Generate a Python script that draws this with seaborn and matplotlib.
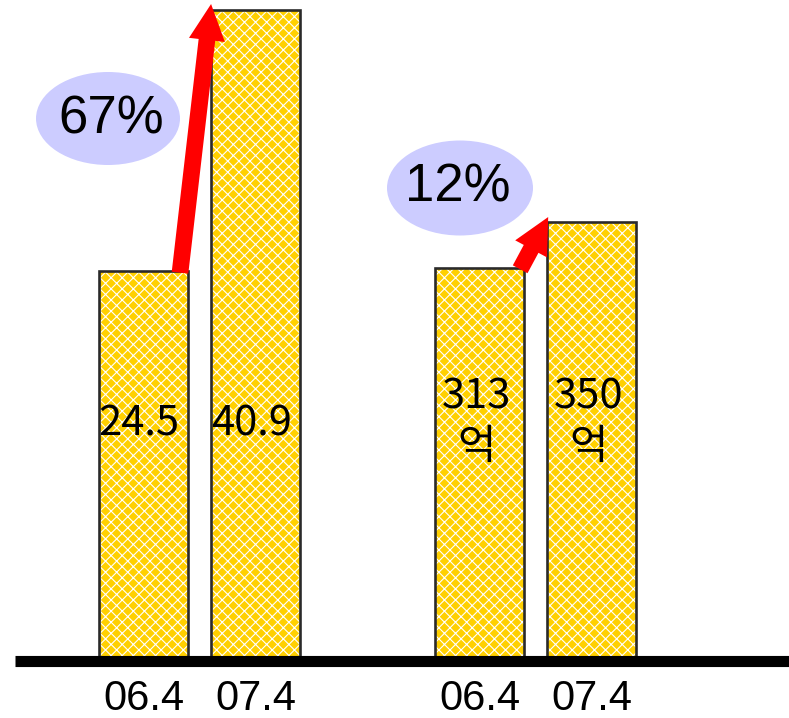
import matplotlib
matplotlib.use("Agg")
import matplotlib.pyplot as plt
from matplotlib.patches import Ellipse
import seaborn as sns
import pandas as pd

# ---- data ----
periods = ["06.4", "07.4"]
group_a_values = [24.5, 40.9]
group_b_values = [313, 350]
group_a_labels = ["24.5", "40.9"]
group_b_labels = ["313\n억", "350\n억"]
growth_labels = ["67%", "12%"]

sns.set_theme(style="white")
plt.rcParams["font.family"] = ["Liberation Sans", "Noto Sans CJK KR", "DejaVu Sans"]
plt.rcParams["hatch.linewidth"] = 0.8

order = ["A " + p for p in periods] + ["gap"] + ["B " + p for p in periods]
df_a = pd.DataFrame({"key": ["A " + p for p in periods], "value": group_a_values})
df_b = pd.DataFrame({"key": ["B " + p for p in periods], "value": group_b_values})

W, H = 789, 718
fig = plt.figure(figsize=(W / 100, H / 100), dpi=100)
ax = fig.add_axes([15 / W, 57 / H, 774 / W, 653 / H])
ax2 = ax.twinx()

YELLOW = "#FFD000"
EDGE = "#2a2a2a"
BAR_W = 0.794


def draw(axis, df):
    sns.barplot(data=df, x="key", y="value", order=order, color=YELLOW,
                saturation=1, width=BAR_W, errorbar=None, ax=axis)
    for p in axis.patches:
        p.set_edgecolor("white")
        p.set_hatch("xxx")
        p.set_linewidth(0)
    sns.barplot(data=df, x="key", y="value", order=order, color=EDGE,
                fill=False, width=BAR_W, errorbar=None, linewidth=1.9, ax=axis)


draw(ax, df_a)
draw(ax2, df_b)

for a in (ax, ax2):
    a.set_xlim(-1.146, 5.758)
    for s in a.spines.values():
        s.set_visible(False)
    a.set_xlabel("")
    a.set_ylabel("")
    a.set_yticks([])
    a.patch.set_visible(False)
ax.set_ylim(0, 41.03)
ax2.set_ylim(0, 520.1)

# x tick labels
ticks = [0, 1, 3, 4]
ax.set_xticks(ticks)
ax.set_xticklabels(periods + periods, fontsize=30, family=["Liberation Sans"])
ax.tick_params(axis="x", length=0, pad=13, colors="black")
ax2.tick_params(axis="x", length=0)

# baseline (on top axes so it covers bar bottoms)
ax2.axhline(0, color="black", lw=8, zorder=10, clip_on=False,
            solid_capstyle="butt")

# value labels inside bars
tr = ax2.get_xaxis_transform()
for i, lab in enumerate(group_a_labels):
    ax2.text(i - 0.04, 0.363, lab, transform=tr, ha="center", va="center",
             fontsize=30, family=["Noto Sans CJK KR"], color="black", zorder=12)
for i, lab in enumerate(group_b_labels):
    ax2.text(3 + i - 0.03, 0.366, lab, transform=tr, ha="center", va="center",
             fontsize=30, family=["Noto Sans CJK KR"], color="black",
             linespacing=1.3, zorder=12)

# growth arrows
arrow_style = "simple,head_length=2.6,head_width=2.6,tail_width=1.2"
ax.annotate("", xy=(1 - 0.397, group_a_values[1] + 0.38),
            xytext=(0 + 0.326, group_a_values[0] - 0.1),
            arrowprops=dict(arrowstyle=arrow_style, mutation_scale=10,
                            color="red", shrinkA=0, shrinkB=0, lw=0),
            annotation_clip=False, zorder=15)
ax2.annotate("", xy=(4 - 0.39, group_b_values[1] + 3.6),
             xytext=(3 + 0.36, group_b_values[0] - 1),
             arrowprops=dict(arrowstyle=arrow_style, mutation_scale=10,
                             color="red", shrinkA=0, shrinkB=0, lw=0),
             annotation_clip=False, zorder=15)

# growth bubbles
bubbles = [((108, 118.5), 144, 93, (111, 119)), ((460, 188), 146, 95, (458, 188))]
for (cx, cy), bw, bh, (tx, ty) in bubbles:
    fig.patches.append(Ellipse((cx / W, 1 - cy / H), bw / W, bh / H,
                               transform=fig.transFigure, facecolor="#CCCCFF",
                               edgecolor="none", zorder=20))
for lab, (_, _, _, (tx, ty)) in zip(growth_labels, bubbles):
    fig.text(tx / W, 1 - ty / H, lab, ha="center", va="center", fontsize=38,
             family=["Liberation Sans"], color="black", zorder=21)

fig.savefig("out.png", dpi=100, facecolor="white")
